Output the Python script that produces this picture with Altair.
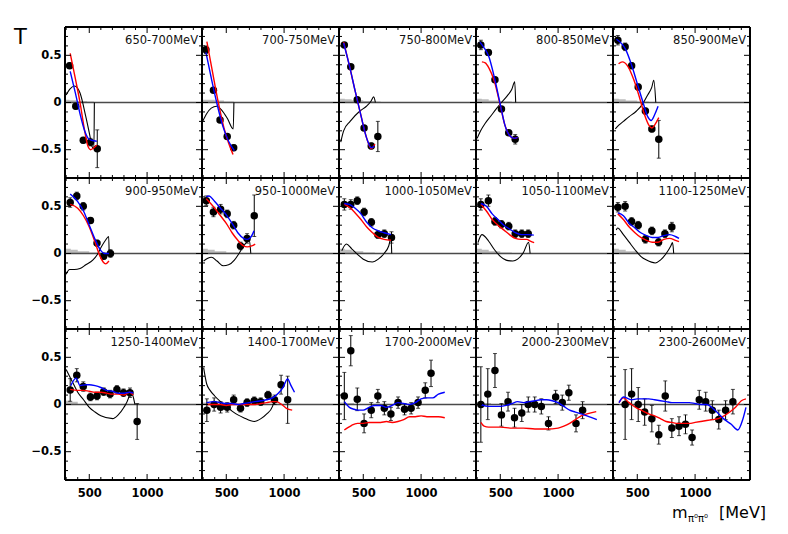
import altair as alt
import pandas as pd

LABELS = ["650-700MeV", "700-750MeV", "750-800MeV", "800-850MeV", "850-900MeV",
          "900-950MeV", "950-1000MeV", "1000-1050MeV", "1050-1100MeV", "1100-1250MeV",
          "1250-1400MeV", "1400-1700MeV", "1700-2000MeV", "2000-2300MeV", "2300-2600MeV"]

# data points (m [MeV], T, error)
PT_M = [
    [330, 383, 448, 510, 569],
    [324, 389, 446, 508, 564],
    [336, 392, 448, 507, 569, 626],
    [332, 397, 454, 510, 573, 629],
    [332, 395, 451, 508, 570, 626, 686],
    [335, 392, 448, 510, 567, 624, 683],
    [327, 389, 451, 508, 564, 623, 680, 742],
    [336, 392, 448, 507, 570, 626, 682, 744],
    [332, 397, 454, 510, 573, 629, 686, 742],
    [332, 395, 451, 508, 570, 626, 684, 739, 799],
    [335, 392, 448, 510, 567, 624, 680, 739, 796, 852, 914],
    [332, 395, 451, 508, 564, 623, 680, 742, 798, 861, 917, 974, 1031],
    [336, 392, 448, 507, 569, 626, 682, 739, 801, 857, 914, 974, 1036, 1086],
    [332, 392, 454, 510, 567, 623, 686, 742, 798, 855, 917, 979, 1036, 1093, 1155, 1212],
    [395, 451, 508, 564, 626, 686, 742, 799, 861, 917, 974, 1036, 1092, 1149, 1205, 1264, 1327],
]
PT_T = [
    [0.39, -0.04, -0.40, -0.42, -0.49],
    [0.56, 0.13, -0.185, -0.36, -0.48],
    [0.61, 0.38, 0.03, -0.27, -0.46, -0.36],
    [0.61, 0.53, 0.24, -0.07, -0.32, -0.39],
    [0.66, 0.59, 0.39, 0.165, -0.09, -0.28, -0.39],
    [0.54, 0.61, 0.50, 0.35, 0.11, -0.03, 0.0],
    [0.56, 0.44, 0.47, 0.42, 0.30, 0.08, 0.16, 0.40],
    [0.52, 0.52, 0.56, 0.44, 0.33, 0.20, 0.21, 0.17],
    [0.52, 0.56, 0.34, 0.31, 0.29, 0.21, 0.21, 0.21],
    [0.49, 0.50, 0.34, 0.30, 0.15, 0.24, 0.12, 0.21, 0.28],
    [0.154, 0.31, 0.19, 0.08, 0.09, 0.136, 0.11, 0.16, 0.125, 0.125, -0.18],
    [-0.06, 0.0, -0.03, -0.03, 0.05, -0.04, 0.02, 0.04, 0.03, 0.10, 0.05, 0.21, 0.05],
    [0.09, 0.57, 0.055, -0.2, -0.06, 0.09, -0.04, -0.1, 0.02, -0.05, -0.04, 0.02, 0.15, 0.33],
    [0.0, 0.11, 0.36, -0.11, 0.03, -0.14, -0.09, 0.0, 0.0, -0.02, -0.2, 0.08, 0.02, 0.125, -0.2, -0.06],
    [0.0, 0.11, 0.0, -0.08, -0.15, -0.32, 0.09, -0.25, -0.23, -0.21, -0.35, 0.05, 0.03, -0.06, -0.16, -0.06, 0.03],
]
PT_E = [
    [0.03, 0.03, 0.03, 0.04, 0.20],
    [0.04, 0.02, 0.02, 0.02, 0.03],
    [0.02, 0.02, 0.02, 0.02, 0.03, 0.16],
    [0.05, 0.03, 0.02, 0.02, 0.02, 0.05],
    [0.05, 0.04, 0.03, 0.03, 0.03, 0.03, 0.20],
    [0.05, 0.04, 0.04, 0.03, 0.03, 0.03, 0.04],
    [0.05, 0.05, 0.05, 0.04, 0.04, 0.04, 0.05, 0.22],
    [0.06, 0.05, 0.04, 0.04, 0.04, 0.04, 0.04, 0.06],
    [0.06, 0.06, 0.04, 0.04, 0.04, 0.04, 0.04, 0.04],
    [0.05, 0.05, 0.04, 0.04, 0.04, 0.04, 0.04, 0.04, 0.05],
    [0.12, 0.07, 0.05, 0.04, 0.04, 0.04, 0.04, 0.04, 0.04, 0.05, 0.19],
    [0.12, 0.07, 0.06, 0.05, 0.05, 0.04, 0.04, 0.04, 0.04, 0.04, 0.05, 0.10, 0.25],
    [0.25, 0.16, 0.12, 0.10, 0.08, 0.07, 0.07, 0.07, 0.06, 0.06, 0.06, 0.06, 0.08, 0.14],
    [0.40, 0.27, 0.18, 0.12, 0.10, 0.10, 0.09, 0.08, 0.08, 0.08, 0.07, 0.07, 0.08, 0.08, 0.09, 0.09],
    [0.37, 0.27, 0.18, 0.14, 0.14, 0.10, 0.16, 0.10, 0.10, 0.10, 0.08, 0.10, 0.10, 0.10, 0.10, 0.10, 0.13],
]

# red fit curves
RED_M = [
    [335, 380, 420, 460, 490, 510, 540, 565],
    [332, 380, 431, 480, 520, 558],
    [330, 380, 430, 480, 530, 570, 600],
    [341, 370, 400, 450, 500, 540, 580, 620, 650],
    [338, 370, 420, 470, 520, 560, 600, 626, 655, 686],
    [335, 400, 450, 500, 550, 590, 620, 641, 670],
    [327, 400, 450, 500, 550, 600, 650, 680, 720, 750],
    [336, 380, 430, 480, 530, 580, 630, 680, 740],
    [332, 380, 430, 480, 530, 580, 630, 680, 730, 760, 793],
    [332, 380, 430, 480, 530, 580, 630, 680, 730, 780, 830, 861],
    [335, 400, 450, 500, 550, 600, 650, 700, 750, 800, 850, 880],
    [330, 400, 450, 500, 550, 600, 650, 700, 750, 800, 850, 900, 930, 980, 1020, 1070],
    [336, 360, 400, 450, 500, 550, 600, 650, 700, 750, 800, 850, 900, 950, 1000, 1050, 1100, 1150, 1205],
    [332, 360, 400, 500, 600, 700, 800, 900, 1000, 1050, 1100, 1150, 1200, 1250, 1330],
    [342, 380, 420, 450, 500, 550, 600, 650, 700, 750, 800, 850, 900, 950, 1000, 1050, 1100, 1150, 1200, 1250, 1300, 1350, 1400, 1440],
]
RED_T = [
    [0.52, 0.25, 0.0, -0.3, -0.47, -0.50, -0.48, -0.45],
    [0.645, 0.33, 0.0, -0.27, -0.43, -0.55],
    [0.64, 0.39, 0.12, -0.14, -0.38, -0.49, -0.44],
    [0.43, 0.42, 0.37, 0.22, -0.03, -0.24, -0.35, -0.38, -0.37],
    [0.41, 0.43, 0.38, 0.24, 0.05, -0.12, -0.24, -0.27, -0.23, -0.16],
    [0.52, 0.48, 0.40, 0.28, 0.12, -0.02, -0.09, -0.11, -0.08],
    [0.58, 0.48, 0.40, 0.32, 0.22, 0.14, 0.08, 0.07, 0.08, 0.10],
    [0.52, 0.49, 0.43, 0.36, 0.28, 0.22, 0.17, 0.15, 0.14],
    [0.52, 0.45, 0.36, 0.30, 0.25, 0.20, 0.16, 0.15, 0.15, 0.13, 0.115],
    [0.42, 0.36, 0.28, 0.22, 0.17, 0.14, 0.12, 0.12, 0.15, 0.16, 0.14, 0.125],
    [0.16, 0.15, 0.15, 0.14, 0.13, 0.13, 0.12, 0.11, 0.11, 0.10, 0.13, 0.10],
    [0.0, 0.0, 0.0, -0.01, 0.0, 0.0, 0.0, 0.0, 0.0, 0.01, 0.02, 0.03, 0.03, 0.0, -0.04, -0.06],
    [-0.27, -0.25, -0.22, -0.2, -0.2, -0.19, -0.19, -0.19, -0.18, -0.19, -0.18, -0.16, -0.13, -0.13, -0.12, -0.13, -0.13, -0.13, -0.14],
    [-0.19, -0.23, -0.24, -0.24, -0.25, -0.25, -0.26, -0.26, -0.25, -0.23, -0.2, -0.16, -0.12, -0.1, -0.076],
    [0.02, 0.07, 0.03, 0.0, -0.04, -0.07, -0.1, -0.12, -0.15, -0.18, -0.19, -0.2, -0.2, -0.2, -0.19, -0.18, -0.17, -0.16, -0.15, -0.12, -0.08, -0.03, 0.04, 0.06],
]

# blue fit curves
BLUE_M = [
    [335, 380, 420, 460, 490, 520, 565],
    [324, 370, 417, 470, 520, 570],
    [330, 380, 430, 480, 530, 570, 595],
    [324, 360, 400, 450, 500, 540, 580, 620, 650],
    [320, 400, 450, 500, 550, 590, 620, 650, 680],
    [335, 400, 450, 500, 550, 600, 630, 670],
    [327, 350, 400, 450, 500, 550, 600, 650, 680, 710, 740],
    [336, 380, 430, 480, 530, 580, 630, 680, 740],
    [332, 380, 430, 480, 530, 580, 630, 680, 740, 790],
    [332, 380, 430, 480, 530, 580, 630, 680, 730, 780, 830, 861],
    [340, 386, 420, 470, 500, 550, 600, 650, 700, 750, 800, 850, 880],
    [330, 400, 450, 500, 550, 600, 650, 700, 750, 800, 850, 900, 950, 990, 1030, 1060, 1090],
    [336, 380, 420, 460, 500, 550, 600, 650, 700, 750, 800, 850, 900, 950, 1000, 1050, 1100, 1150, 1205],
    [332, 400, 450, 500, 550, 600, 650, 700, 750, 800, 850, 900, 950, 1000, 1050, 1100, 1150, 1200, 1250, 1335],
    [342, 380, 450, 500, 550, 600, 650, 700, 750, 800, 850, 900, 950, 1000, 1050, 1100, 1171, 1256, 1313, 1369, 1412, 1440],
]
BLUE_T = [
    [0.33, 0.1, -0.12, -0.3, -0.38, -0.4, -0.41],
    [0.53, 0.26, 0.0, -0.25, -0.41, -0.51],
    [0.63, 0.39, 0.12, -0.14, -0.38, -0.48, -0.46],
    [0.64, 0.58, 0.49, 0.26, -0.02, -0.24, -0.35, -0.38, -0.37],
    [0.67, 0.56, 0.40, 0.20, 0.0, -0.15, -0.19, -0.13, -0.04],
    [0.63, 0.55, 0.45, 0.30, 0.15, 0.03, 0.0, 0.0],
    [0.60, 0.61, 0.55, 0.48, 0.41, 0.32, 0.22, 0.16, 0.15, 0.17, 0.24],
    [0.53, 0.52, 0.48, 0.42, 0.33, 0.27, 0.24, 0.22, 0.20],
    [0.53, 0.50, 0.42, 0.36, 0.30, 0.26, 0.22, 0.20, 0.20, 0.195],
    [0.43, 0.40, 0.32, 0.27, 0.22, 0.19, 0.17, 0.17, 0.19, 0.20, 0.18, 0.16],
    [0.2, 0.28, 0.2, 0.21, 0.21, 0.2, 0.18, 0.15, 0.14, 0.12, 0.12, 0.13, 0.12],
    [0.02, 0.03, 0.02, 0.01, 0.01, 0.0, 0.01, 0.02, 0.03, 0.04, 0.05, 0.07, 0.12, 0.18, 0.27, 0.2, 0.13],
    [0.03, -0.03, -0.05, -0.06, -0.06, -0.03, -0.01, -0.01, -0.03, -0.01, 0.02, 0.01, 0.0, 0.02, 0.06, 0.07, 0.07, 0.11, 0.13],
    [0.0, -0.02, -0.02, -0.02, -0.01, 0.01, 0.03, 0.02, 0.03, 0.04, 0.05, 0.05, 0.04, 0.02, -0.02, -0.06, -0.08, -0.1, -0.12, -0.16],
    [0.02, 0.08, 0.05, 0.06, 0.06, 0.06, 0.05, 0.04, 0.03, 0.02, 0.02, 0.02, 0.02, 0.01, 0.0, 0.0, -0.06, -0.16, -0.21, -0.27, -0.16, -0.03],
]

# black curves (only in the first twelve panels)
BLACK_M = [
    [300, 330, 373, 420, 470, 505, 525, 540, 544],
    [296, 330, 370, 417, 460, 510, 560, 566],
    [305, 330, 386, 471, 527, 565, 590, 605],
    [300, 330, 370, 420, 470, 510, 560, 600, 625, 633],
    [310, 340, 380, 430, 493, 544, 590, 625, 643, 660],
    [300, 330, 370, 420, 470, 530, 570, 600, 640, 668, 672],
    [304, 340, 372, 420, 474, 520, 570, 610, 650, 700, 712],
    [314, 354, 400, 450, 500, 578, 630, 680, 720, 740, 746],
    [307, 341, 400, 450, 500, 550, 609, 650, 700, 745, 758],
    [318, 330, 380, 430, 480, 530, 580, 656, 700, 750, 790, 805, 815],
    [300, 350, 400, 450, 500, 550, 600, 703, 750, 800, 840, 858, 895],
    [304, 330, 360, 400, 450, 500, 550, 600, 650, 742, 800, 850, 900, 924],
    [], [], [],
]
BLACK_T = [
    [0.08, 0.14, 0.175, 0.1, -0.15, -0.35, -0.47, -0.49, 0.0],
    [-0.2, -0.12, -0.06, -0.04, -0.08, -0.17, -0.28, 0.0],
    [-0.42, -0.3, -0.2, -0.09, -0.04, 0.01, 0.06, 0.0],
    [-0.38, -0.3, -0.22, -0.14, -0.06, 0.0, 0.07, 0.14, 0.22, 0.0],
    [-0.28, -0.24, -0.2, -0.15, -0.09, -0.02, 0.08, 0.16, 0.235, 0.0],
    [-0.22, -0.17, -0.17, -0.16, -0.12, -0.07, -0.01, 0.06, 0.14, 0.18, 0.0],
    [-0.08, -0.05, -0.04, -0.08, -0.13, -0.12, -0.07, 0.0, 0.08, 0.14, 0.0],
    [0.03, 0.10, 0.05, -0.01, -0.06, -0.09, -0.06, 0.0, 0.08, 0.165, 0.0],
    [0.115, 0.20, 0.13, 0.04, -0.03, -0.07, -0.08, -0.06, 0.01, 0.12, 0.0],
    [0.25, 0.27, 0.2, 0.12, 0.04, -0.03, -0.07, -0.1, -0.07, 0.0, 0.08, 0.115, 0.0],
    [0.37, 0.25, 0.13, 0.05, -0.03, -0.08, -0.12, -0.15, -0.11, -0.03, 0.07, 0.15, 0.0],
    [0.39, 0.22, 0.15, 0.09, 0.03, -0.02, -0.07, -0.11, -0.14, -0.18, -0.15, -0.1, -0.02, 0.08],
    [], [], [],
]

# grey histogram near zero
GREY_M = [
    [290, 330, 400, 480, 540],
    [290, 330, 400, 480, 565],
    [290, 340, 400, 500, 600, 650],
    [290, 340, 400, 500, 600, 640],
    [290, 340, 400, 500, 600, 680],
    [290, 340, 400, 500, 600],
    [290, 340, 400, 500, 600],
    [290, 340, 400, 500, 600],
    [290, 340, 400, 500, 600],
    [290, 340, 400, 500, 600],
    [290, 340, 400],
    [290, 350, 420],
    [290, 350, 420],
    [290, 350, 420],
    [],
]
GREY_T = [
    [0.03, 0.025, 0.015, 0.01, 0.005],
    [0.03, 0.03, 0.02, 0.01, 0.005],
    [0.04, 0.035, 0.025, 0.015, 0.01, 0.0],
    [0.04, 0.035, 0.02, 0.01, 0.005, 0.0],
    [0.04, 0.035, 0.02, 0.01, 0.005, 0.0],
    [0.05, 0.04, 0.025, 0.01, 0.0],
    [0.05, 0.04, 0.025, 0.01, 0.0],
    [0.05, 0.04, 0.025, 0.01, 0.0],
    [0.05, 0.04, 0.025, 0.01, 0.0],
    [0.05, 0.04, 0.025, 0.01, 0.0],
    [0.04, 0.03, 0.0],
    [0.02, 0.015, 0.0],
    [0.02, 0.015, 0.0],
    [0.02, 0.015, 0.0],
    [],
]

X_DOMAIN = [290, 1475]
Y_DOMAIN = [-0.8, 0.8]
X_MAJOR = [500, 1000]
X_MINOR = [300, 400, 600, 700, 800, 900, 1100, 1200, 1300, 1400]
Y_MAJOR = [-0.5, 0.0, 0.5]
Y_MINOR = [-0.7, -0.6, -0.4, -0.3, -0.2, -0.1, 0.1, 0.2, 0.3, 0.4, 0.6, 0.7]

W, H = 137, 151
FONT = "DejaVu Sans"

xs = alt.Scale(domain=X_DOMAIN, nice=False, zero=False)
ys = alt.Scale(domain=Y_DOMAIN, nice=False, zero=False)


def make_panel(i, row, col):
    if row == 2:
        xaxis = alt.Axis(values=X_MAJOR, ticks=False, domain=False, grid=False, title=None,
                         labelFont=FONT, labelFontWeight="bold", labelFontSize=11.5,
                         labelColor="black", labelPadding=7, format="d")
    else:
        xaxis = None
    if col == 0:
        yaxis = alt.Axis(values=Y_MAJOR, ticks=False, domain=False, grid=False, title=None,
                         labelFont=FONT, labelFontWeight="bold", labelFontSize=11.5,
                         labelColor="black", labelPadding=4, format="~g")
    else:
        yaxis = None

    def X(f):
        return alt.X(f, type="quantitative", scale=xs, axis=xaxis)

    def Y(f):
        return alt.Y(f, type="quantitative", scale=ys, axis=yaxis)

    layers = []
    zero = pd.DataFrame({"m": [X_DOMAIN[0], X_DOMAIN[1]], "t": [0.0, 0.0]})
    if GREY_M[i]:
        g = pd.DataFrame({"m": GREY_M[i], "t": GREY_T[i]})
        layers.append(alt.Chart(g).mark_area(color="#bdbdbd", interpolate="step-after")
                      .encode(x=X("m"), y=Y("t")))
    layers.append(alt.Chart(zero).mark_line(color="#4a4a4a", strokeWidth=1.6)
                  .encode(x=X("m"), y=Y("t")))
    if BLACK_M[i]:
        b = pd.DataFrame({"m": BLACK_M[i], "t": BLACK_T[i]})
        layers.append(alt.Chart(b).mark_line(color="black", strokeWidth=1.1, interpolate="monotone")
                      .encode(x=X("m"), y=Y("t")))
    lo = [t - e for t, e in zip(PT_T[i], PT_E[i])]
    hi = [t + e for t, e in zip(PT_T[i], PT_E[i])]
    pts = pd.DataFrame({"m": PT_M[i], "t": PT_T[i], "lo": lo, "hi": hi})
    caps = pd.DataFrame({"m": PT_M[i] * 2, "t": lo + hi})
    layers.append(alt.Chart(pts).mark_rule(color="black", strokeWidth=1)
                  .encode(x=X("m"), y=Y("lo"), y2="hi"))
    layers.append(alt.Chart(caps).mark_tick(color="black", orient="horizontal", size=4, thickness=1)
                  .encode(x=X("m"), y=Y("t")))
    layers.append(alt.Chart(pts).mark_circle(color="black", size=56, opacity=1)
                  .encode(x=X("m"), y=Y("t")))
    r = pd.DataFrame({"m": RED_M[i], "t": RED_T[i]})
    layers.append(alt.Chart(r).mark_line(color="#ff0000", strokeWidth=1.4, interpolate="monotone")
                  .encode(x=X("m"), y=Y("t")))
    bl = pd.DataFrame({"m": BLUE_M[i], "t": BLUE_T[i]})
    layers.append(alt.Chart(bl).mark_line(color="#0000ff", strokeWidth=1.4, interpolate="monotone")
                  .encode(x=X("m"), y=Y("t")))

    # inward ticks on all four sides
    for vals, ln in ((Y_MAJOR, 6), (Y_MINOR, 3)):
        d = pd.DataFrame({"v": vals})
        layers.append(alt.Chart(d).mark_rule(color="black", strokeWidth=1)
                      .encode(y=Y("v"), x=alt.value(0), x2=alt.value(ln)))
        layers.append(alt.Chart(d).mark_rule(color="black", strokeWidth=1)
                      .encode(y=Y("v"), x=alt.value(W), x2=alt.value(W - ln)))
    for vals, ln in ((X_MAJOR, 6), (X_MINOR, 3)):
        d = pd.DataFrame({"v": vals})
        layers.append(alt.Chart(d).mark_rule(color="black", strokeWidth=1)
                      .encode(x=X("v"), y=alt.value(H), y2=alt.value(H - ln)))
        layers.append(alt.Chart(d).mark_rule(color="black", strokeWidth=1)
                      .encode(x=X("v"), y=alt.value(0), y2=alt.value(ln)))

    # frame
    fr = pd.DataFrame({"k": [0]})
    layers.append(alt.Chart(fr).mark_rule(color="black", strokeWidth=2)
                  .encode(x=alt.value(0), x2=alt.value(W), y=alt.value(0)))
    layers.append(alt.Chart(fr).mark_rule(color="black", strokeWidth=2)
                  .encode(x=alt.value(0), x2=alt.value(W), y=alt.value(H)))
    layers.append(alt.Chart(fr).mark_rule(color="black", strokeWidth=2)
                  .encode(x=alt.value(0), y=alt.value(0), y2=alt.value(H)))
    layers.append(alt.Chart(fr).mark_rule(color="black", strokeWidth=2)
                  .encode(x=alt.value(W), y=alt.value(0), y2=alt.value(H)))

    lab = pd.DataFrame({"lab": [LABELS[i]]})
    layers.append(alt.Chart(lab).mark_text(align="right", baseline="alphabetic", font=FONT,
                                           fontSize=11.5, color="#111111")
                  .encode(x=alt.value(W - 4), y=alt.value(17), text="lab:N"))

    if i == 0:
        tl = pd.DataFrame({"lab": ["T"]})
        layers.append(alt.Chart(tl).mark_text(align="left", baseline="alphabetic", font=FONT,
                                              fontSize=21, color="black")
                      .encode(x=alt.value(-51), y=alt.value(17), text="lab:N"))
    if i == 14:
        t1 = pd.DataFrame({"lab": ["m"]})
        t2 = pd.DataFrame({"lab": ["\u03c0\u2070\u03c0\u2070"]})
        t3 = pd.DataFrame({"lab": ["[MeV]"]})
        layers.append(alt.Chart(t1).mark_text(align="left", baseline="alphabetic", font=FONT,
                                              fontSize=16, color="black")
                      .encode(x=alt.value(59), y=alt.value(189), text="lab:N"))
        layers.append(alt.Chart(t2).mark_text(align="left", baseline="alphabetic", font=FONT,
                                              fontSize=10, color="black")
                      .encode(x=alt.value(75), y=alt.value(193), text="lab:N"))
        layers.append(alt.Chart(t3).mark_text(align="left", baseline="alphabetic", font=FONT,
                                              fontSize=16, color="black")
                      .encode(x=alt.value(106), y=alt.value(189), text="lab:N"))

    return alt.layer(*layers).properties(width=W, height=H)


panels = [make_panel(row * 5 + col, row, col) for row in range(3) for col in range(5)]

chart = alt.concat(*panels, columns=5, spacing=0, bounds="flush").properties(
    padding={"left": 5, "top": 17, "right": 5, "bottom": 5}
).configure_view(strokeWidth=0).configure(background="white")

chart.save("out.html", embed_options={"renderer": "svg", "actions": False})
